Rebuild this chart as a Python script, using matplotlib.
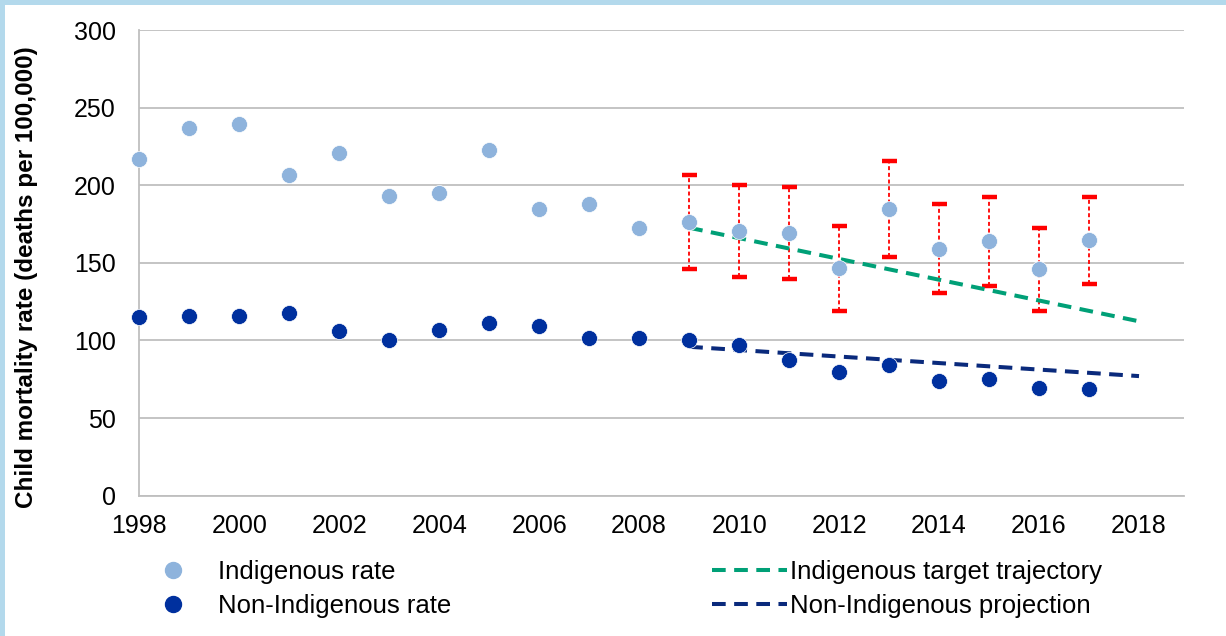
import matplotlib.pyplot as plt
from matplotlib.patches import Rectangle
from matplotlib.lines import Line2D

plt.rcParams['font.family'] = ['Liberation Sans', 'DejaVu Sans']

# Indigenous and non-Indigenous child mortality rates (deaths per 100,000)
years = list(range(1998, 2018))
indigenous = [216.7, 237.1, 239.7, 206.4, 220.6, 192.9, 195.0, 222.5, 184.5, 188.2,
              172.5, 176.2, 170.4, 169.3, 146.4, 184.7, 159.2, 163.9, 145.9, 164.6]
non_indigenous = [115.2, 115.4, 115.4, 117.6, 105.8, 100.0, 106.6, 110.9, 109.4, 101.7,
                  101.3, 100.1, 96.9, 87.3, 79.4, 84.1, 73.8, 75.3, 69.5, 68.4]

# confidence intervals for 2009-2017
ci_years = list(range(2009, 2018))
ci_upper = [206.4, 200.0, 198.9, 173.6, 215.6, 188.0, 192.5, 172.5, 192.5]
ci_lower = [145.9, 140.6, 139.5, 118.7, 153.8, 130.7, 135.0, 119.0, 136.4]

# target / projection lines 2009-2018
proj_years = list(range(2009, 2019))
target = [172.6, 165.9, 159.2, 152.5, 145.8, 139.1, 132.4, 125.7, 119.0, 112.3]
projection = [95.9, 93.8, 91.7, 89.6, 87.5, 85.4, 83.3, 81.2, 79.1, 77.0]

light_blue = '#8EB3DC'
navy = '#00309E'
green = '#00A077'
dark_navy = '#0A2A7C'
red = '#FF0000'
dash = (0, (3.4, 2.1))

W, H = 1226, 636
fig = plt.figure(figsize=(W / 100, H / 100), dpi=100)
ax = fig.add_axes([139.3 / W, 1 - 495.6 / H, (1184 - 139.3) / W, (495.6 - 30) / H])

# light blue frame on top and left edge
fig.add_artist(Rectangle((0, 1 - 5 / H), 1, 5 / H, transform=fig.transFigure,
                         color='#B3D9EC', lw=0))
fig.add_artist(Rectangle((0, 0), 5 / W, 1, transform=fig.transFigure,
                         color='#B3D9EC', lw=0))

ax.plot(proj_years, target, color=green, lw=2.9, ls=dash, zorder=3)
ax.plot(proj_years, projection, color=dark_navy, lw=2.9, ls=dash, zorder=3)

err_low = [v - lo for v, lo in zip(indigenous[-9:], ci_lower)]
err_high = [hi - v for v, hi in zip(indigenous[-9:], ci_upper)]
eb = ax.errorbar(ci_years, indigenous[-9:], yerr=[err_low, err_high], fmt='none',
                 ecolor=red, elinewidth=1.3, capsize=5.4, capthick=3.2, zorder=2)
eb[2][0].set_linestyle((0, (2.2, 1.5)))

ax.plot(years, indigenous, 'o', color=light_blue, ms=11.5, mec='white', mew=0.5,
        zorder=4, clip_on=False)
ax.plot(years, non_indigenous, 'o', color=navy, ms=11.5, mec='white', mew=0.5,
        zorder=4, clip_on=False)

ax.set_xlim(1998, 2018.9)
ax.set_ylim(0, 300)
ax.set_xticks(range(1998, 2019, 2))
ax.set_yticks(range(0, 301, 50))
ax.grid(axis='y', color='#BFBFBF', lw=1.3)
ax.set_axisbelow(True)
for s in ['top', 'right']:
    ax.spines[s].set_visible(False)
for s in ['left', 'bottom']:
    ax.spines[s].set_color('#BFBFBF')
    ax.spines[s].set_linewidth(1.3)
ax.tick_params(axis='both', length=0, labelsize=18)
ax.tick_params(axis='y', pad=17)
ax.tick_params(axis='x', pad=13)

fig.text(27 / W, 1 - 277 / H, 'Child mortality rate (deaths per 100,000)', rotation=90,
         ha='center', va='center', fontsize=17.5, fontweight='bold')

left_handles = [Line2D([], [], ls='none', marker='o', ms=11.5, color=light_blue),
                Line2D([], [], ls='none', marker='o', ms=11.5, color=navy)]
fig.legend(left_handles, ['Indigenous rate', 'Non-Indigenous rate'],
           loc='upper left', bbox_to_anchor=(136 / W, 1 - 560 / H), frameon=False,
           fontsize=18.5, handlelength=2.9, handletextpad=0.3, labelspacing=0.4,
           borderpad=0, borderaxespad=0)

right_handles = [Line2D([], [], color=green, lw=2.9, ls=dash),
                 Line2D([], [], color=dark_navy, lw=2.9, ls=dash)]
fig.legend(right_handles, ['Indigenous target trajectory', 'Non-Indigenous projection'],
           loc='upper left', bbox_to_anchor=(712 / W, 1 - 560 / H), frameon=False,
           fontsize=18.5, handlelength=2.9, handletextpad=0.15, labelspacing=0.4,
           borderpad=0, borderaxespad=0)

fig.savefig('out.png', dpi=100)
